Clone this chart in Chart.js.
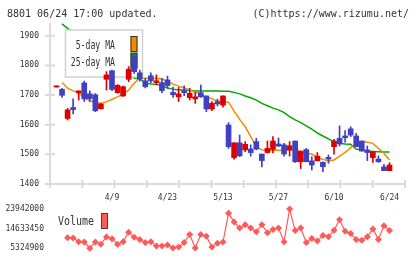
<!DOCTYPE html>
<html><head><meta charset="utf-8">
<script src="https://cdn.jsdelivr.net/npm/chart.js@4"></script>
<style>
html,body{margin:0;padding:0;background:#fff;}
#wrap{position:relative;width:420px;height:259px;overflow:hidden;}
canvas{position:absolute;left:0;top:0;}
</style></head><body>
<div id="wrap"><canvas id="c1" width="420" height="259"></canvas><canvas id="c2" width="420" height="259"></canvas></div>
<script>
// ---- data ----
const tickLabels = ['4/9','4/23','5/13','5/27','6/10','6/24'];
const tickIdx    = [10, 20, 30, 40, 50, 60];
const priceTicks = [1400, 1500, 1600, 1700, 1800, 1900];
const volTicks   = [5324900, 14633450, 23942000];

const openP  = [1727,1719,1621,1658,1707,1741,1704,1701,1654,1753,1782,1708,1697,1753,1832,1775,1748,1765,1742,1742,1751,1709,1694,1715,1691,1687,1708,1697,1653,1678,1666,1599,1489,1539,1515,1518,1543,1501,1506,1517,1535,1532,1515,1545,1475,1516,1478,1478,1473,1490,1526,1554,1562,1586,1562,1545,1515,1489,1484,1458,1445];
const highP  = [1731,1723,1655,1687,1714,1747,1714,1705,1671,1779,1784,1735,1730,1796,1841,1784,1756,1775,1768,1756,1764,1727,1726,1731,1723,1709,1734,1697,1678,1686,1697,1607,1539,1565,1543,1532,1554,1501,1545,1560,1555,1537,1543,1545,1511,1520,1492,1506,1475,1498,1551,1596,1580,1593,1571,1545,1528,1509,1495,1466,1472];
const lowP   = [1727,1692,1616,1636,1683,1678,1678,1644,1652,1717,1715,1706,1695,1745,1773,1747,1724,1742,1734,1708,1723,1692,1678,1698,1683,1672,1692,1644,1647,1663,1659,1520,1484,1492,1509,1494,1515,1458,1504,1505,1526,1494,1494,1473,1452,1475,1447,1478,1442,1470,1501,1528,1541,1560,1526,1511,1479,1473,1473,1445,1445];
const closeP = [1731,1699,1650,1651,1714,1687,1688,1647,1670,1768,1719,1733,1728,1787,1779,1754,1728,1748,1748,1715,1732,1701,1704,1708,1706,1694,1694,1653,1672,1670,1697,1526,1539,1495,1534,1506,1518,1479,1520,1545,1528,1501,1529,1475,1511,1475,1464,1494,1458,1484,1545,1535,1556,1565,1526,1511,1506,1509,1475,1445,1464];
const ma5    = [null,1742,1723,1714,1709,1691,1681,1675,1672,1677,1686,1694,1702,1717,1740,1757,1757,1757,1756,1754,1747,1737,1730,1724,1717,1710,1703,1693,1687,1680,1677,1676,1646,1618,1593,1560,1526,1515,1512,1515,1514,1514,1515,1515,1509,1504,1501,1490,1483,1478,1481,1494,1507,1522,1537,1543,1541,1537,1520,1504,1481];
const ma25   = [null,1940,1925,1912,1900,1890,1878,1866,1852,1840,1828,1815,1802,1788,1757,1754,1741,1737,1736,1731,1724,1720,1717,1717,1715,1714,1714,1714,1714,1714,1713,1713,1709,1704,1697,1691,1683,1672,1664,1656,1650,1641,1627,1616,1607,1596,1585,1572,1562,1552,1542,1537,1535,1534,1518,1515,1511,1510,1509,1508,1508];
const volume = [null,null,10300000,10210000,8440000,8260000,5324900,8260000,7190000,10680000,9840000,7190000,8440000,12910000,10580000,9510000,7980000,8440000,6400000,6400000,6860000,5450000,5930000,7980000,11840000,5450000,11840000,11050000,5930000,7650000,8260000,21940000,17750000,14960000,16500000,14960000,13100000,16500000,12630000,14170000,14960000,8440000,23942000,13700000,14960000,7980000,9980000,8720000,11380000,10770000,13840000,18820000,13380000,12310000,9510000,9050000,10770000,14490000,9510000,16030000,13700000];

// ---- styles ----
const RED = '#dd0000', BLUE = '#4040c0', ORANGE = '#f08c00', GREEN = '#00a800', VOLC = '#ff5a5a';
const AXIS = '#dadada', TXT = '#333333', MONO = 'DejaVu Sans Mono';
const XMIN = -1.17, XMAX = 62.79;

const idx = openP.map((_, i) => i);
const candleColors = idx.map(i => closeP[i] >= openP[i] ? RED : BLUE);

// narrow, tall monospace text (the reference uses a condensed bitmap-like font)
function narrowText(ctx, text, x, y, size, sx, align) {
  ctx.save();
  ctx.font = size + 'px "' + MONO + '"';
  ctx.textAlign = align; ctx.textBaseline = 'middle';
  ctx.translate(x, y); ctx.scale(sx, 1);
  ctx.fillText(text, 0, 0);
  ctx.restore();
}

function drawLegendBox(chart) {
  const ctx = chart.ctx, a = chart.chartArea;
  const bx = a.left + 15.5, by = a.top + 7, bw = 77, bh = 47;
  ctx.save();
  ctx.fillStyle = '#ffffff';
  ctx.fillRect(bx, by, bw, bh);
  ctx.strokeStyle = '#d0d0d0'; ctx.lineWidth = 1.5;
  ctx.strokeRect(bx, by, bw, bh);
  const rows = [['5-day MA', ORANGE, 16], ['25-day MA', GREEN, 32.7]];
  rows.forEach(([t, c, dy]) => {
    ctx.fillStyle = TXT;
    narrowText(ctx, t, bx + 49.5, by + dy, 12, 0.68, 'right');
    ctx.fillStyle = c; ctx.fillRect(bx + 65, by + dy - 10, 7, 16);
    ctx.strokeStyle = '#333'; ctx.lineWidth = 1; ctx.strokeRect(bx + 65.5, by + dy - 9.5, 6, 15);
  });
  ctx.restore();
}

const decor1 = {
  id: 'decor1',
  beforeDatasetsDraw(chart) {
    const ctx = chart.ctx, a = chart.chartArea, ys = chart.scales.y;
    ctx.save();
    ctx.strokeStyle = AXIS; ctx.lineWidth = 2;
    ctx.beginPath();
    ctx.moveTo(a.left, a.top); ctx.lineTo(a.left, a.bottom + 4);
    ctx.moveTo(a.left - 5, a.bottom); ctx.lineTo(a.right, a.bottom);
    priceTicks.forEach(v => { const y = ys.getPixelForValue(v); ctx.moveTo(a.left - 5, y); ctx.lineTo(a.left + 5, y); });
    for (let k = 1; k <= 11; k++) { const x = a.left + k * (a.right - a.left) / 11; ctx.moveTo(x, a.bottom - 4); ctx.lineTo(x, a.bottom + 4); }
    ctx.stroke();
    ctx.restore();
  },
  beforeDatasetDraw(chart, args) { if (args.index === 1) drawLegendBox(chart); },
  afterDraw(chart) {
    const ctx = chart.ctx;
    ctx.save();
    ctx.font = '10px "' + MONO + '"'; ctx.fillStyle = TXT; ctx.textBaseline = 'middle';
    ctx.textAlign = 'left'; ctx.fillText('8801 06/24 17:00 updated.', 7, 14);
    ctx.textAlign = 'right'; ctx.fillText('(C)https://www.rizumu.net/', 409, 14);
    ctx.restore();
  }
};

new Chart(document.getElementById('c1'), {
  type: 'bar',
  data: { datasets: [
    { type: 'bar', label: 'body', data: idx.map(i => ({x: i, y: [openP[i], closeP[i]]})), backgroundColor: candleColors, barThickness: 5, minBarLength: 1, grouped: false, order: 0, borderWidth: 0 },
    { type: 'bar', label: 'wick', data: idx.map(i => ({x: i, y: [lowP[i], highP[i]]})), backgroundColor: candleColors, barThickness: 1, grouped: false, order: 1, borderWidth: 0 },
    { type: 'line', label: '5-day MA', data: idx.map(i => ({x: i, y: ma5[i]})), borderColor: ORANGE, borderWidth: 1.5, pointRadius: 0, order: 2 },
    { type: 'line', label: '25-day MA', data: idx.map(i => ({x: i, y: ma25[i]})), borderColor: GREEN, borderWidth: 1.5, pointRadius: 0, order: 3 }
  ]},
  options: {
    responsive: false, animation: false, events: [],
    layout: { padding: { left: 0, right: 15, top: 23, bottom: 0 } },
    plugins: { legend: { display: false }, tooltip: { enabled: false } },
    scales: {
      x: { type: 'linear', min: XMIN, max: XMAX, offset: false, grid: { display: false, drawTicks: false }, border: { display: false },
           afterBuildTicks: s => { s.ticks = tickIdx.map(v => ({value: v})); },
           ticks: { callback: v => { const k = tickIdx.indexOf(v); return k >= 0 ? tickLabels[k] : ''; }, font: { family: MONO, size: 8 }, color: TXT, padding: 9, maxRotation: 0, autoSkip: false },
           afterFit: s => { s.height = 75; } },
      y: { min: 1400, max: 1943, grid: { display: false, drawTicks: false }, border: { display: false },
           afterBuildTicks: s => { s.ticks = priceTicks.map(v => ({value: v})); },
           ticks: { callback: v => String(v), font: { family: MONO, size: 8 }, color: TXT, padding: 11 },
           afterFit: s => { s.width = 50; } }
    }
  },
  plugins: [decor1]
});

const decor2 = {
  id: 'decor2',
  afterDraw(chart) {
    const ctx = chart.ctx;
    ctx.save();
    ctx.fillStyle = TXT;
    narrowText(ctx, 'Volume', 58, 222, 12, 0.83, 'left');
    ctx.fillStyle = VOLC; ctx.fillRect(101.5, 213.5, 6, 15);
    ctx.strokeStyle = '#444'; ctx.lineWidth = 1; ctx.strokeRect(101.5, 213.5, 6, 15);
    ctx.restore();
  }
};

new Chart(document.getElementById('c2'), {
  type: 'line',
  data: { datasets: [
    { label: 'Volume', data: idx.map(i => ({x: i, y: volume[i]})), borderColor: VOLC, backgroundColor: VOLC, borderWidth: 1.2, pointStyle: 'rectRot', pointRadius: 3.5, pointBorderWidth: 0, clip: false }
  ]},
  options: {
    responsive: false, animation: false, events: [],
    layout: { padding: { left: 0, right: 15, top: 209, bottom: 10 } },
    plugins: { legend: { display: false }, tooltip: { enabled: false } },
    scales: {
      x: { type: 'linear', min: XMIN, max: XMAX, display: false },
      y: { min: volTicks[0], max: volTicks[2], grid: { display: false, drawTicks: false }, border: { display: false },
           afterBuildTicks: s => { s.ticks = volTicks.map(v => ({value: v})); },
           ticks: { callback: v => String(v), font: { family: MONO, size: 8 }, color: TXT, padding: 6 },
           afterFit: s => { s.width = 50; } }
    }
  },
  plugins: [decor2]
});
</script>
</body></html>
